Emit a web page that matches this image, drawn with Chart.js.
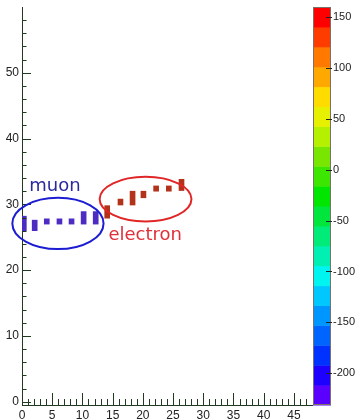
<!DOCTYPE html>
<html>
<head>
<meta charset="utf-8">
<script src="https://cdn.jsdelivr.net/npm/chart.js@4.4.1/dist/chart.umd.min.js"></script>
<style>
  html, body { margin: 0; padding: 0; background: #ffffff; }
  #wrap { width: 356px; height: 420px; }
</style>
</head>
<body>
<div id="wrap"><canvas id="c" width="356" height="420"></canvas></div>
<script>
// Hit positions along the detector (x) and the vertical extent of each hit [low, high]
const muonX = [0.3, 2.1, 4.1, 6.2, 8.2, 10.2, 12.2];
const muonY = [[26.0, 28.2], [26.0, 27.6], [27.0, 27.8], [27.0, 27.8], [27.0, 27.8], [27.0, 28.9], [27.0, 28.9]];
const electronX = [14.1, 16.3, 18.3, 20.1, 22.2, 24.3, 26.4];
const electronY = [[27.9, 29.8], [29.9, 30.8], [29.9, 32.0], [31.0, 32.0], [32.0, 32.8], [32.0, 32.8], [32.1, 33.8]];

// Axis tick labels
const xTicks = [0, 5, 10, 15, 20, 25, 30, 35, 40, 45];
const yTicks = [0, 10, 20, 30, 40, 50];
const zTicks = [150, 100, 50, 0, -50, -100, -150, -200];
const zRange = [-231, 159.5];

// Colour scale, bottom band first
const palette = ['#5a00ff', '#1e00ff', '#0032ff', '#0064ff', '#0096ff', '#00c8ff', '#00f5f0', '#00f0b4',
                 '#00eb78', '#00e63c', '#00e600', '#3ce600', '#78e600', '#b4f000', '#e6f000', '#ffdc00',
                 '#ffa800', '#ff7800', '#ff3c00', '#ff0000'];

// Particle labels and the regions circled around each track (data units)
const trackNames = ['muon', 'electron'];
const regionCentres = [[5.95, 27.1], [20.45, 30.8]];
const regionRadii = [[7.55, 3.9], [7.6, 3.4]];
const labelAnchors = [[1.2, 32.1], [14.3, 24.6]];

const axisColor = '#1f3a1f';
const labelFont = { family: 'Liberation Sans', size: 12, lineHeight: 1 };

const toPoints = (xs, ys) => xs.map((x, i) => ({ x: x, y: ys[i] }));

// Inward-pointing tick marks on both axes
const axisTicks = {
  id: 'axisTicks',
  afterDatasetsDraw(chart) {
    const { ctx, chartArea: a, scales } = chart;
    ctx.save();
    ctx.strokeStyle = axisColor;
    ctx.lineWidth = 1;
    ctx.beginPath();
    for (let v = 0; v <= 47; v += 1) {
      const px = Math.round(scales.x.getPixelForValue(v)) + 0.5;
      const len = v % 5 === 0 ? 12 : 6;
      ctx.moveTo(px, a.bottom);
      ctx.lineTo(px, a.bottom - len);
    }
    for (let v = 0; v < 60; v += 2) {
      const py = Math.round(scales.y.getPixelForValue(v)) + 0.5;
      const len = v % 10 === 0 ? 9 : 4.5;
      ctx.moveTo(a.left, py);
      ctx.lineTo(a.left + len, py);
    }
    ctx.stroke();
    ctx.restore();
  }
};

// Colour bar with its value labels, to the right of the plot
const colorBar = {
  id: 'colorBar',
  afterDraw(chart) {
    const { ctx, chartArea: a } = chart;
    const z = chart.scales.zAxis;
    const left = a.right + 1, right = a.right + 19;
    const n = palette.length;
    const step = (zRange[1] - zRange[0]) / n;
    ctx.save();
    for (let i = 0; i < n; i++) {
      const y0 = z.getPixelForValue(zRange[0] + i * step);
      const y1 = z.getPixelForValue(zRange[0] + (i + 1) * step);
      ctx.fillStyle = palette[i];
      ctx.fillRect(left, y1, right - left, y0 - y1 + 0.5);
    }
    ctx.strokeStyle = '#7a7068';
    ctx.lineWidth = 1;
    ctx.strokeRect(left + 0.5, z.getPixelForValue(zRange[1]) + 0.5, right - left - 1,
      z.getPixelForValue(zRange[0]) - z.getPixelForValue(zRange[1]) - 1);
    ctx.strokeStyle = '#222';
    ctx.beginPath();
    zTicks.forEach(v => {
      const py = Math.round(z.getPixelForValue(v)) + 0.5;
      ctx.moveTo(right - 5, py);
      ctx.lineTo(right + 1, py);
    });
    ctx.stroke();
    ctx.fillStyle = '#222';
    ctx.font = '11px "Liberation Sans"';
    ctx.textAlign = 'left';
    ctx.textBaseline = 'middle';
    zTicks.forEach(v => ctx.fillText(String(v), right + 2, z.getPixelForValue(v)));
    ctx.restore();
  }
};

// Circled regions and their particle names
const trackLabels = {
  id: 'trackLabels',
  afterDraw(chart) {
    const { ctx, scales: { x, y } } = chart;
    const strokes = ['#1c1cd2', '#e02626'];
    const inks = ['#2a2a9e', '#e0303a'];
    ctx.save();
    ctx.lineWidth = 2;
    regionCentres.forEach((c, i) => {
      const cx = x.getPixelForValue(c[0]);
      const cy = y.getPixelForValue(c[1]);
      const rx = x.getPixelForValue(c[0] + regionRadii[i][0]) - cx;
      const ry = cy - y.getPixelForValue(c[1] + regionRadii[i][1]);
      ctx.strokeStyle = strokes[i];
      ctx.beginPath();
      ctx.ellipse(cx, cy, rx, ry, 0, 0, Math.PI * 2);
      ctx.stroke();
    });
    ctx.font = '18px "DejaVu Sans"';
    ctx.textBaseline = 'alphabetic';
    ctx.textAlign = 'left';
    trackNames.forEach((name, i) => {
      ctx.fillStyle = inks[i];
      ctx.fillText(name, x.getPixelForValue(labelAnchors[i][0]), y.getPixelForValue(labelAnchors[i][1]));
    });
    ctx.restore();
  }
};

new Chart(document.getElementById('c'), {
  type: 'bar',
  data: {
    datasets: [
      { label: trackNames[0], data: toPoints(muonX, muonY), backgroundColor: '#4c2cc2' },
      { label: trackNames[1], data: toPoints(electronX, electronY), backgroundColor: '#b3321a' }
    ]
  },
  options: {
    responsive: false,
    animation: false,
    devicePixelRatio: 1,
    layout: { padding: { top: 7, left: 0, right: 0, bottom: 0 } },
    datasets: { bar: { barThickness: 5, grouped: false, borderWidth: 0 } },
    plugins: { legend: { display: false }, tooltip: { enabled: false } },
    scales: {
      x: {
        type: 'linear', position: 'bottom', min: 0, max: 48, offset: false,
        afterBuildTicks: s => { s.ticks = xTicks.map(v => ({ value: v })); },
        afterFit: s => { s.height = 15; },
        grid: { display: false, drawTicks: false },
        border: { display: true, color: axisColor, width: 1 },
        ticks: { autoSkip: false, maxRotation: 0, padding: 5, color: '#222', font: labelFont }
      },
      y: {
        type: 'linear', position: 'left', min: -0.5, max: 60,
        afterBuildTicks: s => { s.ticks = yTicks.map(v => ({ value: v })); },
        afterFit: s => { s.width = 22; },
        grid: { display: false, drawTicks: true, tickLength: 3 },
        border: { display: true, color: axisColor, width: 1 },
        ticks: { padding: 0, color: '#222', font: labelFont }
      },
      zAxis: {
        axis: 'y', type: 'linear', position: 'right', min: zRange[0], max: zRange[1],
        afterFit: s => { s.width = 44; },
        grid: { display: false, drawTicks: false },
        border: { display: false },
        ticks: { display: false }
      }
    }
  },
  plugins: [axisTicks, colorBar, trackLabels]
});
</script>
</body>
</html>
